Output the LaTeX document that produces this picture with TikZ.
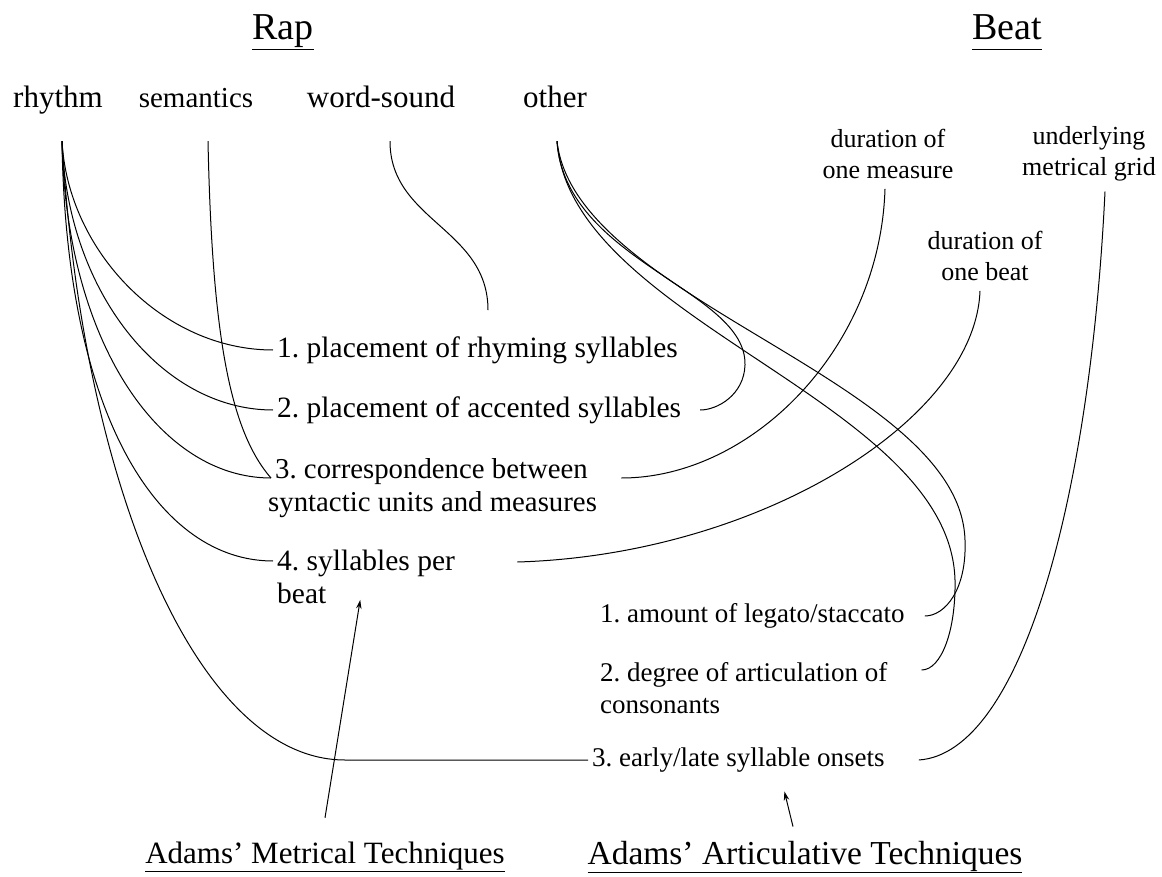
\documentclass[tikz,border=0pt]{standalone}
\usepackage{fontspec}
\setmainfont{Liberation Serif}
\usetikzlibrary{positioning,calc,arrows.meta}
\tikzset{>={Stealth[length=9pt,width=5.5pt]}}
\tikzset{
  head/.style={font=\fontsize{38}{42}\selectfont,inner sep=2pt},
  kind/.style={font=\fontsize{31}{36}\selectfont,text height=21pt,text depth=7pt,inner sep=4pt},
  side/.style={font=\fontsize{26}{31}\selectfont,align=center,inner sep=4pt},
  tech/.style={font=\fontsize{29.5}{32.5}\selectfont\frenchspacing,align=flush left,anchor=west,inner sep=4pt},
  arti/.style={font=\fontsize{27}{32.5}\selectfont\frenchspacing,align=flush left,anchor=west,inner sep=4pt},
  foot/.style={font=\fontsize{31}{36}\selectfont,inner sep=4pt},
  link/.style={line width=1pt},
}

\begin{document}
\begin{tikzpicture}[x=1pt,y=-1pt]
\useasboundingbox (0,0) rectangle (1162,877);
% headings
\node[head] (rap) at (283,32) {\underline{Rap}};
\node[head] (beat) at (1007,32) {\underline{Beat\vphantom{p}}};
\node[kind] (rhythm) at (58,101) {rhythm};
\node[kind,font=\fontsize{29}{36}\selectfont] (sem) at (196,101) {semantics};
\node[kind] (ws) at (381,101) {word-sound};
\node[kind] (other) at (555,101) {other};
\node[side] (measure) at (888,154) {duration of\\one measure};
\node[side] (grid) at (1089,154) {underlying\\metrical grid};
\node[side] (onebeat) at (985,256) {duration of\\one beat};
% metrical techniques
\node[tech] (i1) at (273,350) {1. placement of rhyming syllables};
\node[tech] (i2) at (273,410) {2. placement of accented syllables};
\node[tech,font=\fontsize{28.8}{32.5}\selectfont\frenchspacing,text width=349pt] (i3) at (264,488) {\hspace*{7pt}3. correspondence between\\syntactic units and measures};
\node[tech,text width=236pt] (i4) at (273,577) {4. syllables per\\beat};
% articulative techniques
\node[arti] (a1) at (596,616) {1. amount of legato/staccato};
\node[arti] (a2) at (596,688) {2. degree of articulation of\\consonants};
\node[arti] (a3) at (588,760) {3. early/late syllable onsets};
\node[foot] (metrical) at (325,857) {\underline{Adams' Metrical Techniques}};
\node[foot,font=\fontsize{33.5}{38}\selectfont] (artic) at (805,857) {\underline{Adams' Articulative Techniques}};

\begin{scope}[link]
\draw ([xshift=4pt,yshift=-22pt]rhythm.south) .. controls +(6,110) and +(-110,0) .. (i1.west);
\draw ([xshift=4pt,yshift=-22pt]rhythm.south) .. controls +(5,150) and +(-112,0) .. (i2.west);
\draw ([xshift=4pt,yshift=-22pt]rhythm.south) .. controls +(4,200) and +(-112,0) .. ([xshift=7pt,yshift=10pt]i3.west);
\draw ([xshift=4pt,yshift=-22pt]rhythm.south) .. controls +(4,280) and +(-112,0) .. ([yshift=16pt]i4.west);
\draw ([xshift=4pt,yshift=-22pt]rhythm.south) .. controls +(20,340) and +(-150,0) .. (345,760) -- (a3.west);
\draw ([xshift=12pt,yshift=-22pt]sem.south) .. controls +(4,190) and +(-42,-48) .. ([xshift=7pt,yshift=10pt]i3.west);
\draw ([xshift=9pt,yshift=-22pt]ws.south) .. controls +(0,80) and +(0,-82) .. ([xshift=215pt,yshift=22pt]i1.north west);
\draw ([xshift=2pt,yshift=-22pt]other.south)
  .. controls +(8,120) and +(2,-75) .. (745,365)
  .. controls +(-1,30) and +(17,0) .. ([xshift=15pt]i2.east);
\draw ([xshift=2pt,yshift=-22pt]other.south)
  .. controls +(18,160) and +(-5,-160) .. (965,540)
  .. controls +(2,50) and +(20,0) .. ([xshift=16pt]a1.east);
\draw ([xshift=2pt,yshift=-22pt]other.south)
  .. controls +(13,180) and +(-5,-180) .. (955,580)
  .. controls +(1,50) and +(20,0) .. ([xshift=30pt,yshift=18pt]a2.east);
\draw ([xshift=-3pt,yshift=-6pt]measure.south) .. controls +(-5,160) and +(130,0) .. ([yshift=10pt]i3.east);
\draw ([xshift=-5pt,yshift=-6pt]onebeat.south) .. controls +(-5,130) and +(240,-7) .. ([yshift=15pt]i4.east);
\draw ([xshift=16pt,yshift=-6pt]grid.south) .. controls +(-15,310) and +(102,-7) .. ([xshift=30pt]a3.east);
\draw[->] ([yshift=20pt]metrical.north) -- ([xshift=-35pt,yshift=8pt]i4.south);
\draw[->] ([xshift=-12pt,yshift=10pt]artic.north) -- ([xshift=46pt,yshift=-15pt]a3.south);
\end{scope}
\end{tikzpicture}
\end{document}
